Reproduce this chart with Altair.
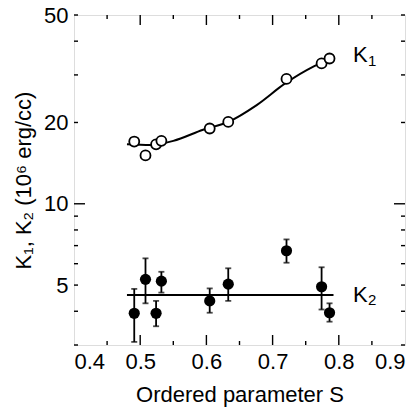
import altair as alt
import pandas as pd

# ---- data ----
S_pts = [0.491, 0.508, 0.524, 0.532, 0.605, 0.633, 0.721, 0.774, 0.786]
K1_vals = [17.0, 15.1, 16.6, 17.1, 19.0, 20.1, 29.0, 33.1, 34.5]
K2_vals = [3.93, 5.25, 3.93, 5.17, 4.37, 5.04, 6.70, 4.93, 3.95]
K2_hi = [4.84, 6.28, 4.37, 5.60, 4.86, 5.77, 7.38, 5.82, 4.28]
K2_lo = [3.08, 4.28, 3.52, 4.69, 3.95, 4.37, 6.05, 4.06, 3.66]

K1_fit_S = [0.480, 0.515, 0.550, 0.595, 0.633, 0.676, 0.719, 0.7615, 0.790]
K1_fit_v = [16.6, 16.5, 17.1, 18.8, 20.1, 23.2, 27.9, 32.2, 34.6]
K2_fit_S = [0.480, 0.792]
K2_fit_v = [4.59, 4.59]

x_labels = [0.4, 0.5, 0.6, 0.7, 0.8, 0.9]
x_major = [0.5, 0.6, 0.7, 0.8]
x_minor = [0.45, 0.55, 0.65, 0.75, 0.85]
y_labels = [5, 10, 20, 50]
y_major = [10]
y_minor = [3, 4, 5, 6, 7, 8, 9, 20, 30, 40, 50]

FONT = "Liberation Sans"
W, H = 331, 330

pts = pd.DataFrame({"S": S_pts, "K1": K1_vals, "K2": K2_vals, "hi": K2_hi, "lo": K2_lo})
fit1 = pd.DataFrame({"S": K1_fit_S, "v": K1_fit_v})
fit2 = pd.DataFrame({"S": K2_fit_S, "v": K2_fit_v})

xs = alt.Scale(domain=[0.4, 0.9], nice=False, zero=False)
ys = alt.Scale(type="log", domain=[3, 50], nice=False)

xaxis = alt.Axis(values=x_labels, format=".1f", ticks=False, domain=False, grid=False,
                 labelFont=FONT, labelFontSize=22, labelPadding=6, labelColor="black",
                 title="Ordered parameter S", titleFont=FONT, titleFontSize=22,
                 titleFontWeight="normal", titlePadding=12, titleColor="black")
yaxis = alt.Axis(values=y_labels, format="d", ticks=False, domain=False, grid=False,
                 labelFont=FONT, labelFontSize=22, labelPadding=6, labelColor="black",
                 title="K\u2081, K\u2082 (10\u2076 erg/cc)", titleFont=FONT, titleFontSize=22,
                 titleFontWeight="normal", titlePadding=8, titleColor="black")

X = alt.X("S:Q", scale=xs, axis=xaxis)
Y = alt.Y("v:Q", scale=ys, axis=yaxis)

line1 = alt.Chart(fit1).mark_line(color="black", strokeWidth=2, interpolate="monotone").encode(x=X, y=Y)
line2 = alt.Chart(fit2).mark_line(color="black", strokeWidth=2).encode(
    x=alt.X("S:Q", scale=xs), y=alt.Y("v:Q", scale=ys))

err = alt.Chart(pts).mark_rule(color="black", strokeWidth=1.8).encode(
    x=alt.X("S:Q", scale=xs), y=alt.Y("lo:Q", scale=ys), y2="hi:Q")
cap_hi = alt.Chart(pts).mark_tick(color="black", orient="horizontal", size=6, thickness=1.8).encode(
    x=alt.X("S:Q", scale=xs), y=alt.Y("hi:Q", scale=ys))
cap_lo = alt.Chart(pts).mark_tick(color="black", orient="horizontal", size=6, thickness=1.8).encode(
    x=alt.X("S:Q", scale=xs), y=alt.Y("lo:Q", scale=ys))

k2 = alt.Chart(pts).mark_point(shape="circle", filled=True, color="black", size=125, opacity=1).encode(
    x=alt.X("S:Q", scale=xs), y=alt.Y("K2:Q", scale=ys))
k1 = alt.Chart(pts).mark_point(shape="circle", filled=True, fill="white", stroke="black",
                               strokeWidth=1.8, size=100, opacity=1).encode(
    x=alt.X("S:Q", scale=xs), y=alt.Y("K1:Q", scale=ys))

# inward ticks on all four sides
def xticks(vals, length):
    d = pd.DataFrame({"t": vals})
    b = alt.Chart(d).mark_rule(color="black", strokeWidth=1.4).encode(
        x=alt.X("t:Q", scale=xs), y=alt.value(H), y2=alt.value(H - length))
    t = alt.Chart(d).mark_rule(color="black", strokeWidth=1.4).encode(
        x=alt.X("t:Q", scale=xs), y=alt.value(0), y2=alt.value(length))
    return b + t

def yticks(vals, length):
    d = pd.DataFrame({"t": vals})
    l = alt.Chart(d).mark_rule(color="black", strokeWidth=1.4).encode(
        y=alt.Y("t:Q", scale=ys), x=alt.value(0), x2=alt.value(length))
    r = alt.Chart(d).mark_rule(color="black", strokeWidth=1.4).encode(
        y=alt.Y("t:Q", scale=ys), x=alt.value(W), x2=alt.value(W - length))
    return l + r

# curve labels
lab_main = pd.DataFrame({"S": [0.8215, 0.8215], "v": [33.6, 4.34], "t": ["K", "K"]})
lab_sub = pd.DataFrame({"S": [0.844, 0.844], "v": [32.4, 4.22], "t": ["1", "2"]})
tmain = alt.Chart(lab_main).mark_text(font=FONT, fontSize=22, align="left", baseline="alphabetic",
                                      color="black").encode(
    x=alt.X("S:Q", scale=xs), y=alt.Y("v:Q", scale=ys), text="t:N")
tsub = alt.Chart(lab_sub).mark_text(font=FONT, fontSize=15, align="left", baseline="alphabetic",
                                    color="black").encode(
    x=alt.X("S:Q", scale=xs), y=alt.Y("v:Q", scale=ys), text="t:N")

chart = alt.layer(
    line1, line2, err, cap_hi, cap_lo, k2, k1,
    xticks(x_major, 10), xticks(x_minor, 4),
    yticks(y_major, 11), yticks(y_minor, 4),
    tmain, tsub,
).properties(
    width=W, height=H,
    autosize=alt.AutoSizeParams(type="none"),
    padding={"left": 74, "top": 15, "right": 14, "bottom": 74},
).configure_view(stroke="black", strokeWidth=1.8).configure(background="white")

chart.save("out.html", embed_options={"renderer": "svg", "actions": False})
